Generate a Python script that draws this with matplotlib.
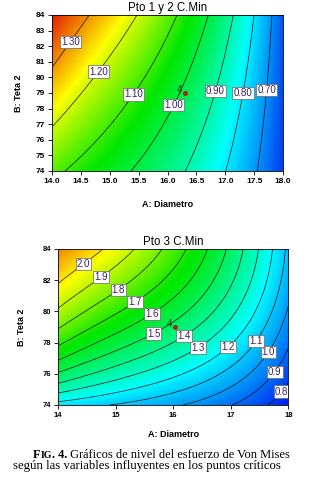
import numpy as np
import matplotlib
matplotlib.use("Agg")
from matplotlib import pyplot as plt
from matplotlib.colors import LinearSegmentedColormap

# data (Von Mises stress, Diametro x Teta 2)
diam_top = [14.0, 15.0, 16.0, 17.0, 18.0]
teta_top = [74.0, 79.0, 84.0]
vm_top = [
    [1.120, 1.035, 0.933, 0.803, 0.600],
    [1.258, 1.148, 1.028, 0.866, 0.617],
    [1.380, 1.260, 1.123, 0.936, 0.630],
]
levels_top = [0.70, 0.80, 0.90, 1.00, 1.10, 1.20, 1.30]
point_top = (16.3, 79.0)

diam_bot = [14.0, 15.0, 16.0, 17.0, 18.0]
teta_bot = [74.0, 76.5, 79.0, 81.5, 84.0]
vm_bot = [
    [1.160, 1.095, 1.016, 0.911, 0.730],
    [1.557, 1.400, 1.260, 1.080, 0.845],
    [1.810, 1.627, 1.506, 1.295, 0.960],
    [1.986, 1.810, 1.635, 1.367, 1.030],
    [2.130, 1.962, 1.757, 1.481, 1.076],
]
levels_bot = [0.8, 0.9, 1.0, 1.1, 1.2, 1.3, 1.4, 1.5, 1.6, 1.7, 1.8, 1.9, 2.0]
point_bot = (16.03, 79.0)

cmap = LinearSegmentedColormap.from_list(
    "dx", [(0.0, "#0010f0"), (0.32, "#00ffff"), (0.6, "#00e800"),
           (0.8, "#ffff00"), (1.0, "#e00000")])


def smooth(xs, ys, z, dx, dy):
    # least squares polynomial surface through the read values
    X, Y = np.meshgrid(xs, ys)
    xm, ym = np.mean(xs), np.mean(ys)
    terms = [(i, j) for i in range(dx + 1) for j in range(dy + 1)]
    A = np.array([(X.ravel() - xm) ** i * (Y.ravel() - ym) ** j for i, j in terms]).T
    c = np.linalg.lstsq(A, np.ravel(z), rcond=None)[0]
    fx = np.linspace(xs[0], xs[-1], 300)
    fy = np.linspace(ys[0], ys[-1], 300)
    FX, FY = np.meshgrid(fx, fy)
    F = sum(ci * (FX - xm) ** i * (FY - ym) ** j for ci, (i, j) in zip(c, terms))
    return FX, FY, F


def panel(ax, xs, ys, z, dx, dy, levels, vmin, vmax, fmt, label_pos, pt, title):
    FX, FY, F = smooth(xs, ys, z, dx, dy)
    ax.pcolormesh(FX, FY, F, cmap=cmap, vmin=vmin, vmax=vmax, shading="gouraud")
    cs = ax.contour(FX, FY, F, levels=levels, colors="black", linewidths=0.45)
    txt = ax.clabel(cs, fmt=fmt, fontsize=7, inline=False, colors="#3b1f5e",
                    manual=label_pos)
    for t in txt:
        t.set_rotation(0)
        t.set_family("Liberation Sans")
        t.set_bbox(dict(boxstyle="square,pad=0.12", fc="white", ec="#666666", lw=0.5))
    ax.plot(*pt, marker="o", ms=2.6, color="#a02a1c", lw=0)
    ax.text(pt[0] - 0.04, pt[1] + 0.02 * (ys[-1] - ys[0]), "4", ha="right", va="center",
            fontsize=7, color="#1e2e1e", family="Liberation Sans")
    ax.set_xlim(xs[0], xs[-1])
    ax.set_ylim(ys[0], ys[-1])
    ax.set_title(title, fontsize=8.3, family="Liberation Sans", pad=3)
    ax.set_xlabel("A: Diametro", fontsize=6.5, fontweight="bold", family="Liberation Sans")
    ax.set_ylabel("B: Teta 2", fontsize=6.5, fontweight="bold", family="Liberation Sans")
    ax.tick_params(direction="out", length=3, width=0.6, pad=2)
    for s in ax.spines.values():
        s.set_linewidth(0.6)


fig = plt.figure(figsize=(3.25, 4.83), dpi=100)

ax1 = fig.add_axes([0.160, 0.646, 0.711, 0.323])
panel(ax1, diam_top, teta_top, vm_top, 3, 2, levels_top, 0.55, 1.40, "%.2f",
      [(14.2, 82.6), (14.83, 80.3), (15.45, 78.8), (16.13, 78.2), (16.84, 79.1),
       (17.31, 79.0), (17.71, 79.2)],
      point_top, "Pto 1 y 2 C.Min")
ax1.set_xticks(np.arange(14, 18.01, 0.5))
ax1.set_yticks(np.arange(74, 84.01, 1))
ax1.xaxis.set_major_formatter("{x:.1f}")
for lab in ax1.get_xticklabels() + ax1.get_yticklabels():
    lab.set_fontsize(6)
    lab.set_fontweight("bold")
    lab.set_family("Liberation Sans")
ax1.xaxis.labelpad = 11
ax1.yaxis.labelpad = 9

ax2 = fig.add_axes([0.1785, 0.1615, 0.709, 0.323])
panel(ax2, diam_bot, teta_bot, vm_bot, 3, 3, levels_bot, 0.70, 2.30, "%.1f",
      [(17.84, 75.0), (17.72, 76.25), (17.61, 77.5), (17.40, 78.2), (16.94, 77.8),
       (16.44, 77.65), (16.19, 78.4), (15.70, 78.29), (15.63, 79.88), (15.34, 80.6),
       (15.04, 81.42), (14.74, 82.26), (14.43, 83.1)],
      point_bot, "Pto 3 C.Min")
ax2.set_xticks([14, 15, 16, 17, 18])
ax2.set_yticks([74, 76, 78, 80, 82, 84])
for lab in ax2.get_xticklabels() + ax2.get_yticklabels():
    lab.set_fontsize(5.5)
    lab.set_fontweight("bold")
    lab.set_family("Liberation Sans")
ax2.xaxis.labelpad = 8
ax2.yaxis.labelpad = 12

# caption, "FIG." in small caps
rend = fig.canvas.get_renderer()
W, H = fig.bbox.width, fig.bbox.height
x0, y1, y2 = 33.0, 1 - 458 / H, 1 - 469 / H
t = fig.text(x0 / W, y1, "F", fontsize=8.9, family="Liberation Serif", va="baseline",
             fontweight="bold")
x0 += t.get_window_extent(rend).width
t = fig.text(x0 / W, y1, "IG", fontsize=7.0, family="Liberation Serif", va="baseline",
             fontweight="bold")
x0 += t.get_window_extent(rend).width
t = fig.text(x0 / W, y1, ". 4.", fontsize=8.9, family="Liberation Serif", va="baseline",
             fontweight="bold")
x0 += t.get_window_extent(rend).width
fig.text(x0 / W, y1, " Gráficos de nivel del esfuerzo de Von Mises", fontsize=8.9,
         family="Liberation Serif", va="baseline")
fig.text(13 / W, y2, "según las variables influyentes en los puntos críticos",
         fontsize=9.2, family="Liberation Serif", va="baseline")

fig.savefig("out.png", dpi=100)
